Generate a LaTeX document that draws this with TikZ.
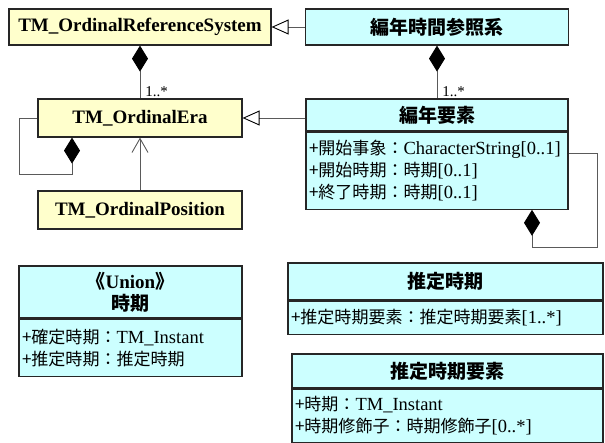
\documentclass[tikz,border=0pt]{standalone}
\usepackage{fontspec}
\setmainfont{Liberation Serif}
\newfontfamily\cjk{Noto Sans CJK JP}
\newfontfamily\cjka[Scale=0.92]{Noto Sans CJK JP}
\usetikzlibrary{arrows.meta}
\definecolor{clsyellow}{HTML}{FFFFCC}
\definecolor{clscyan}{HTML}{CCFFFF}
\definecolor{linegray}{HTML}{5A5A5A}

\begin{document}
\begin{tikzpicture}[x=1pt,y=-1pt,
		cls/.style={draw=black!85,line width=1.2pt,inner sep=0pt,font=\bfseries\fontsize{19}{22}\selectfont},
		yel/.style={cls,fill=clsyellow},
		cyn/.style={cls,fill=clscyan},
		attr/.style={draw=black!85,line width=1.2pt,fill=clscyan,inner xsep=3pt,inner ysep=0pt,align=left,anchor=north,font=\fontsize{18.5}{22}\selectfont},
		link/.style={draw=linegray,line width=0.9pt},
		gen/.style={link,-{Triangle[open,length=17pt,width=15pt,black]}},
		comp/.style={link,{Diamond[length=26pt,width=16pt,black]}-},
		nav/.style={link,-{Straight Barb[length=14pt,width=16pt]}},
		mult/.style={font=\fontsize{15}{15}\selectfont,inner sep=1pt}]
	\useasboundingbox (0,0) rectangle (605,442);
	\node[yel,minimum width=262pt,minimum height=36pt] (ors) at (140,27) {TM\_OrdinalReferenceSystem};
	\node[cyn,minimum width=263pt,minimum height=36pt] (ref) at (437,27) {\cjk 編年時間参照系};
	\node[yel,minimum width=204pt,minimum height=38pt] (era) at (140,118) {TM\_OrdinalEra};
	\node[yel,minimum width=204pt,minimum height=38pt] (pos) at (140,210) {TM\_OrdinalPosition};
	\node[cyn,minimum width=262pt,minimum height=32pt] (eleT) at (437,115) {\cjk 編年要素};
	\node[attr,text width=256pt,minimum height=77pt] (eleA) at (eleT.south) {{\cjka +開始事象：}CharacterString[0..1]\\{\cjka +開始時期：時期}[0..1]\\{\cjka +終了時期：時期}[0..1]};
	\node[cyn,minimum width=223pt,minimum height=52pt,align=center] (uniT) at (130.5,292) {{\cjk 《}Union{\cjk 》}\\{\cjk 時期}};
	\node[attr,text width=217pt,minimum height=57pt] (uniA) at (uniT.south) {{\cjka +確定時期：}TM\_Instant\\{\cjka +推定時期：推定時期}};
	\node[cyn,minimum width=315pt,minimum height=37pt] (estT) at (445.5,281.5) {\cjk 推定時期};
	\node[attr,text width=309pt,minimum height=33pt] (estA) at (estT.south) {{\cjka +推定時期要素：推定時期要素}[1..*]};
	\node[cyn,minimum width=311pt,minimum height=34pt] (elmT) at (447.5,371) {\cjk 推定時期要素};
	\node[attr,text width=305pt,minimum height=53pt] (elmA) at (elmT.south) {{\cjka +時期：}TM\_Instant\\{\cjka +時期修飾子：時期修飾子}[0..*]};
	\coordinate (eraloop) at (19,174);
	\coordinate (eleloop) at (597,247);
	\draw[gen] (ref) -- (ors);
	\draw[gen] (eleT.west |- era) -- (era);
	\draw[comp] (ors) -- node[mult,at end,anchor=south west,xshift=4pt]{1..*} (era);
	\draw[comp] (ref) -- node[mult,at end,anchor=south west,xshift=4pt]{1..*} (eleT);
	\draw[nav] (pos) -- (era);
	\draw[comp] ([xshift=-68pt]era.south) |- (eraloop) |- (era.west);
	\draw[comp] ([xshift=95pt]eleA.south) |- (eleloop) |- ([yshift=17pt]eleA.east);
\end{tikzpicture}
\end{document}
